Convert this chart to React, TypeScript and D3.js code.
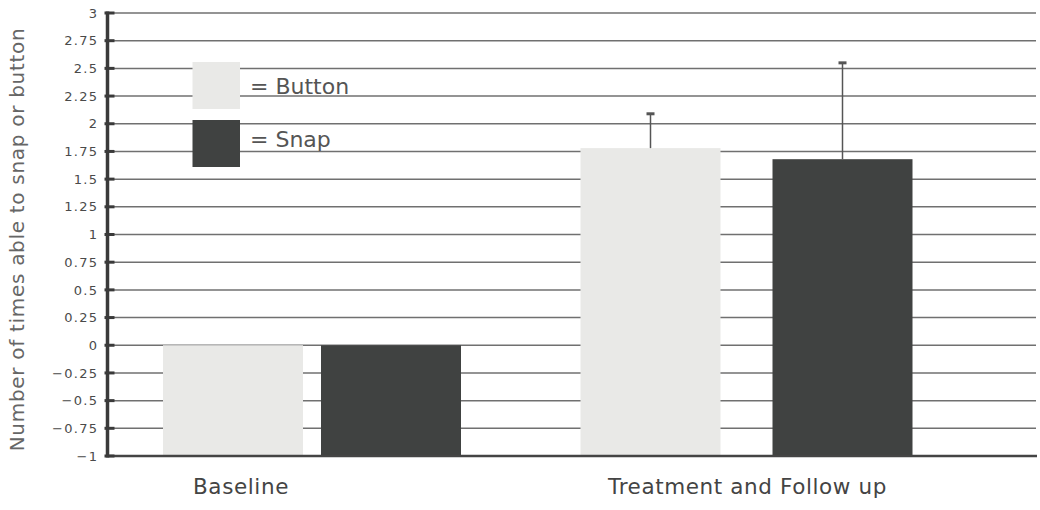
import React, { useEffect, useRef } from "react";
import * as d3 from "d3";

// ---- data ----
const categories = ["Baseline", "Treatment and Follow up"];
const seriesNames = ["Button", "Snap"];
const buttonValues = [0, 1.78];
const snapValues = [0, 1.68];
const buttonErrorTop: (number | null)[] = [null, 2.09];
const snapErrorTop: (number | null)[] = [null, 2.55];
const yTickValues = [-1, -0.75, -0.5, -0.25, 0, 0.25, 0.5, 0.75, 1, 1.25, 1.5, 1.75, 2, 2.25, 2.5, 2.75, 3];
const yTitle = "Number of times able to snap or button";

// ---- layout / style ----
const W = 1040;
const H = 510;
const colors = ["#e9e9e7", "#404241"];
const FONT = "'DejaVu Sans', sans-serif";

export default function App() {
  const ref = useRef<SVGSVGElement | null>(null);

  useEffect(() => {
    const svg = d3.select(ref.current);
    svg.selectAll("*").remove();

    const y = d3.scaleLinear().domain([-1, 3]).range([456, 13]);
    const axisX = 107.5;
    const rightX = 1036;
    const groupX = d3.scalePoint<string>().domain(categories).range([312, 746.5]);
    const barW = 140;
    const innerGap = [18, 52];
    const labelOffset = [-71, 1];

    const series = [buttonValues, snapValues];
    const errs = [buttonErrorTop, snapErrorTop];

    // gridlines
    svg
      .append("g")
      .selectAll("line")
      .data(yTickValues.filter((v) => v > -1))
      .join("line")
      .attr("x1", axisX)
      .attr("x2", rightX)
      .attr("y1", (d) => y(d))
      .attr("y2", (d) => y(d))
      .attr("stroke", "#707070")
      .attr("stroke-width", 1.5);

    // bars
    const barX = (gi: number, si: number) =>
      (groupX(categories[gi]) as number) + (si - 0.5) * (barW + innerGap[gi]) - barW / 2;

    series.forEach((vals, si) => {
      svg
        .append("g")
        .selectAll("rect")
        .data(vals)
        .join("rect")
        .attr("x", (_d, gi) => barX(gi, si))
        .attr("width", barW)
        .attr("y", (d) => y(d))
        .attr("height", (d) => y(-1) - y(d))
        .attr("fill", colors[si]);
    });

    // error bars
    series.forEach((vals, si) => {
      vals.forEach((v, gi) => {
        const top = errs[si][gi];
        if (top == null) return;
        const cx = barX(gi, si) + barW / 2;
        svg
          .append("line")
          .attr("x1", cx)
          .attr("x2", cx)
          .attr("y1", y(v))
          .attr("y2", y(top))
          .attr("stroke", "#555")
          .attr("stroke-width", 1.5);
        svg
          .append("line")
          .attr("x1", cx - 4)
          .attr("x2", cx + 4)
          .attr("y1", y(top))
          .attr("y2", y(top))
          .attr("stroke", "#555")
          .attr("stroke-width", 3);
      });
    });

    // bottom axis line
    svg
      .append("line")
      .attr("x1", axisX)
      .attr("x2", rightX + 1)
      .attr("y1", y(-1))
      .attr("y2", y(-1))
      .attr("stroke", "#444")
      .attr("stroke-width", 2.5);

    // y axis line
    svg
      .append("line")
      .attr("x1", axisX)
      .attr("x2", axisX)
      .attr("y1", y(3) - 1.5)
      .attr("y2", y(-1) + 1.5)
      .attr("stroke", "#3a3a3a")
      .attr("stroke-width", 3.5);

    // ticks
    svg
      .append("g")
      .selectAll("line")
      .data(yTickValues)
      .join("line")
      .attr("x1", axisX - 3)
      .attr("x2", axisX + 7)
      .attr("y1", (d) => y(d))
      .attr("y2", (d) => y(d))
      .attr("stroke", "#3a3a3a")
      .attr("stroke-width", 3);

    const fmt = d3.format("");
    const tickLS = 1.3;
    svg
      .append("g")
      .selectAll("text")
      .data(yTickValues)
      .join("text")
      .attr("x", 97 + tickLS)
      .attr("y", (d) => y(d))
      .attr("dy", "0.36em")
      .attr("text-anchor", "end")
      .attr("font-family", FONT)
      .attr("font-size", 13)
      .attr("letter-spacing", tickLS)
      .attr("fill", "#4a4a4a")
      .text((d) => fmt(d));

    // y title
    svg
      .append("text")
      .attr("transform", `translate(24, ${(y(3) + y(-1)) / 2 + 5}) rotate(-90)`)
      .attr("text-anchor", "middle")
      .attr("font-family", FONT)
      .attr("font-size", 20)
      .attr("letter-spacing", 0.7)
      .attr("fill", "#666")
      .text(yTitle);

    // category labels
    svg
      .append("g")
      .selectAll("text")
      .data(categories)
      .join("text")
      .attr("x", (d, i) => (groupX(d) as number) + labelOffset[i])
      .attr("y", 494)
      .attr("text-anchor", "middle")
      .attr("font-family", FONT)
      .attr("font-size", 21.5)
      .attr("letter-spacing", 0.6)
      .attr("fill", "#444")
      .text((d) => d);

    // legend
    const lg = svg.append("g");
    seriesNames.forEach((name, i) => {
      lg.append("rect")
        .attr("x", 192.5)
        .attr("y", 62 + i * 58)
        .attr("width", 47.5)
        .attr("height", 47)
        .attr("fill", colors[i]);
      lg.append("text")
        .attr("x", 250)
        .attr("y", 94 + i * 53)
        .attr("font-family", FONT)
        .attr("font-size", 22)
        .attr("fill", "#555")
        .text(`= ${name}`);
    });
  }, []);

  return (
    <svg
      ref={ref}
      width={W}
      height={H}
      style={{ position: "absolute", left: 0, top: 0, background: "#fff", display: "block" }}
    />
  );
}
